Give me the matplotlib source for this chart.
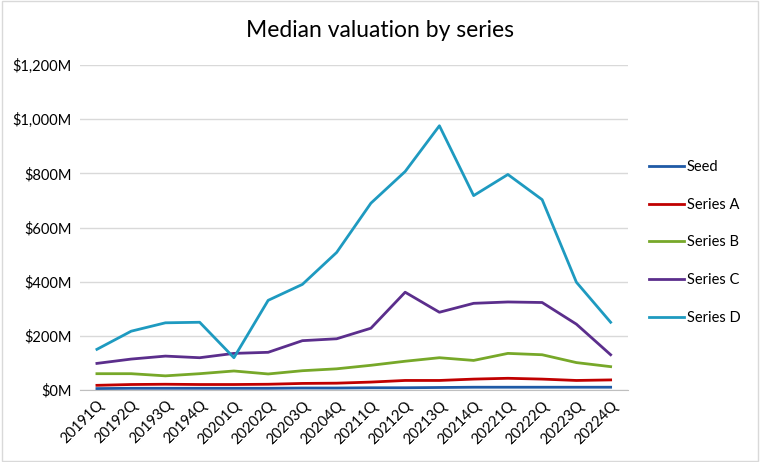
import matplotlib
matplotlib.use("Agg")
import matplotlib.pyplot as plt
from matplotlib.patches import Rectangle

quarters = ["20191Q", "20192Q", "20193Q", "20194Q", "20201Q", "20202Q", "20203Q", "20204Q",
            "20211Q", "20212Q", "20213Q", "20214Q", "20221Q", "20222Q", "20223Q", "20224Q"]

seed = [5, 6, 6, 6, 6, 6, 7, 7, 8, 8, 9, 10, 10, 10, 10, 10]
series_a = [17, 20, 21, 20, 20, 21, 24, 25, 29, 35, 35, 40, 43, 40, 35, 37]
series_b = [60, 60, 52, 60, 70, 59, 71, 78, 91, 106, 119, 109, 135, 130, 101, 86]
series_c = [98, 114, 125, 119, 135, 139, 182, 189, 228, 361, 287, 320, 325, 323, 243, 130]
series_d = [150, 217, 248, 250, 119, 331, 390, 508, 690, 807, 976, 718, 796, 703, 398, 250]

names = ["Seed", "Series A", "Series B", "Series C", "Series D"]
colors = ["#1F5AA6", "#C00000", "#77A829", "#5B2E8C", "#1E9AC0"]

plt.rcParams["font.family"] = ["Lato", "DejaVu Sans"]

fig = plt.figure(figsize=(7.6, 4.62), dpi=100)
ax = fig.add_axes([0.105, 0.156, 0.721, 0.703])

x = list(range(len(quarters)))
for vals, name, col in zip([seed, series_a, series_b, series_c, series_d], names, colors):
    ax.plot(x, vals, color=col, linewidth=2.0, label=name, solid_joinstyle="round")

ax.set_xlim(-0.5, len(quarters) - 0.5)
ax.set_ylim(0, 1200)
ticks = list(range(0, 1201, 200))
ax.set_yticks(ticks)
ax.set_yticklabels([f"${t:,}M" for t in ticks], fontsize=10.5)
ax.set_xticks(x)
ax.set_xticklabels(quarters, rotation=45, ha="right", rotation_mode="anchor", fontsize=10.5)
ax.tick_params(axis="both", length=0, pad=6)
ax.grid(axis="y", color="#D9D9D9", linewidth=1)
ax.set_axisbelow(True)
for s in ["top", "right", "left"]:
    ax.spines[s].set_visible(False)
ax.spines["bottom"].set_color("#BFBFBF")

fig.text(0.5, 0.935, "Median valuation by series", ha="center", va="center", fontsize=16.5)

ax.legend(loc="upper left", bbox_to_anchor=(1.015, 0.748), frameon=False, fontsize=10.5,
          handlelength=2.4, handletextpad=0.2, labelspacing=1.62)

fig.patches.append(Rectangle((0.002, 0.003), 0.996, 0.994, transform=fig.transFigure,
                             fill=False, edgecolor="#D9D9D9", linewidth=1))

fig.savefig("out.png", dpi=100)
